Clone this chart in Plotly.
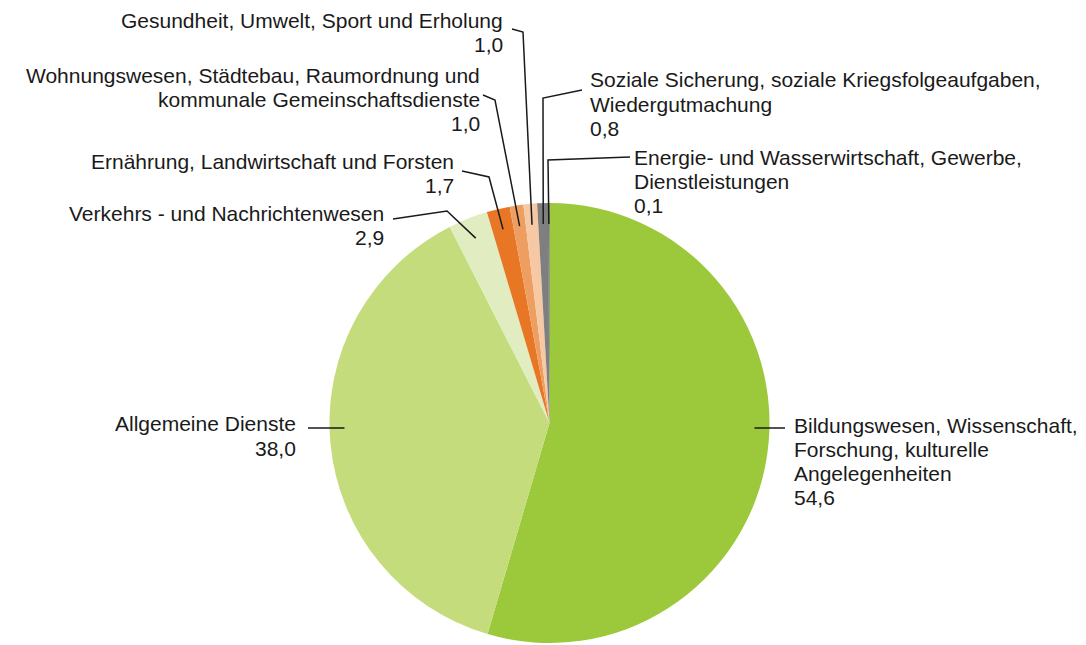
import math
import plotly.graph_objects as go

# ---- data ----
categories = [
    "Bildungswesen, Wissenschaft, Forschung, kulturelle Angelegenheiten",
    "Allgemeine Dienste",
    "Verkehrs - und Nachrichtenwesen",
    "Ernährung, Landwirtschaft und Forsten",
    "Wohnungswesen, Städtebau, Raumordnung und kommunale Gemeinschaftsdienste",
    "Gesundheit, Umwelt, Sport und Erholung",
    "Soziale Sicherung, soziale Kriegsfolgeaufgaben, Wiedergutmachung",
    "Energie- und Wasserwirtschaft, Gewerbe, Dienstleistungen",
]
values = [54.6, 38.0, 2.9, 1.7, 1.0, 1.0, 0.8, 0.1]
value_labels = ["54,6", "38,0", "2,9", "1,7", "1,0", "1,0", "0,8", "0,1"]
label_lines = [
    ["Bildungswesen, Wissenschaft,", "Forschung, kulturelle", "Angelegenheiten"],
    ["Allgemeine Dienste"],
    ["Verkehrs - und Nachrichtenwesen"],
    ["Ernährung, Landwirtschaft und Forsten"],
    ["Wohnungswesen, Städtebau, Raumordnung und", "kommunale Gemeinschaftsdienste"],
    ["Gesundheit, Umwelt, Sport und Erholung"],
    ["Soziale Sicherung, soziale Kriegsfolgeaufgaben,", "Wiedergutmachung"],
    ["Energie- und Wasserwirtschaft, Gewerbe,", "Dienstleistungen"],
]
colors = ["#9CC93B", "#C4DC7C", "#E1ECC1", "#E87725", "#EF9E62", "#F6C8A3", "#7F7F7F", "#555555"]

# ---- layout (screen pixels; page body has an 8px margin) ----
SCREEN_W, SCREEN_H = 1086, 645
OFF = 8
W, H = SCREEN_W - OFF, SCREEN_H - OFF
CX, CY, R = 549.5, 423.0, 220.0
LINE_H = 24.2
FONT = dict(family="Liberation Sans, Arial, sans-serif", size=21, color="#1a1a1a")

# label block: (anchor x, first line y, xanchor)
label_pos = [
    (792, 425, "left"),
    (298, 424, "right"),
    (386, 213, "right"),
    (456, 161, "right"),
    (482, 75, "right"),
    (505, 20, "right"),
    (588, 80, "left"),
    (632, 157, "left"),
]
# leader line: outer start point, optional elbow (None -> horizontal line at start y)
leader_start = [(785, 428), (308, 428), (393, 219), (462, 171), (483, 95), (512, 29), (582, 90), (630, 157)]
leader_elbow = [None, None, (447, 211), (489, 177), (495, 100), (523, 32), (543, 98), (548, 160)]
INNER = 0.905


def px(x):
    return (x - OFF) / W


def py(y):
    return 1 - (y - OFF) / H


fig = go.Figure()
fig.add_trace(go.Pie(
    labels=categories, values=values, sort=False, direction="clockwise", rotation=0,
    marker=dict(colors=colors, line=dict(width=0)),
    textinfo="none", hoverinfo="label+value", showlegend=False,
    domain=dict(x=[px(CX - R), px(CX + R)], y=[py(CY + R), py(CY - R)]),
))

total = sum(values)
cum = 0.0
shapes, annotations = [], []
for i, v in enumerate(values):
    mid = (cum + v / 2) / total * 2 * math.pi
    cum += v
    sx, sy = leader_start[i]
    if leader_elbow[i] is None:
        rho = INNER * R * 1.03
        dx = math.sqrt(max(rho ** 2 - (sy - CY) ** 2, 0))
        ex = CX + dx if sx > CX else CX - dx
        path = f"M {px(sx)} {py(sy)} L {px(ex)} {py(sy)}"
    else:
        bx, by = leader_elbow[i]
        ex = CX + INNER * R * math.sin(mid)
        ey = CY - INNER * R * math.cos(mid)
        path = f"M {px(sx)} {py(sy)} L {px(bx)} {py(by)} L {px(ex)} {py(ey)}"
    shapes.append(dict(type="path", path=path, xref="paper", yref="paper",
                       line=dict(color="#1a1a1a", width=1.5)))

    ax, ay, anchor = label_pos[i]
    lines = label_lines[i] + [value_labels[i]]
    for k, t in enumerate(lines):
        annotations.append(dict(
            text=t, x=px(ax), y=py(ay + k * LINE_H), xref="paper", yref="paper",
            xanchor=anchor, yanchor="middle", showarrow=False, font=FONT, align=anchor,
        ))

fig.update_layout(
    width=W, height=H, margin=dict(l=0, r=0, t=0, b=0),
    paper_bgcolor="white", plot_bgcolor="white",
    shapes=shapes, annotations=annotations,
)
fig.write_html("out.html")
